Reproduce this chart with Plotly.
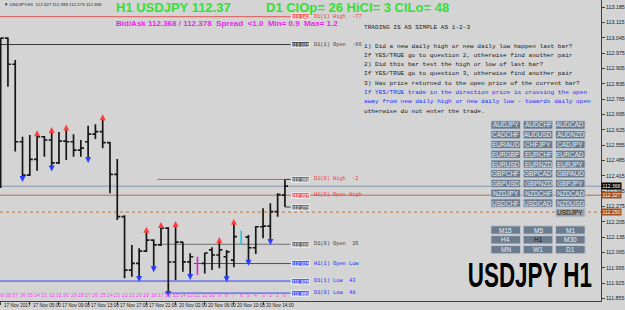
import plotly.graph_objects as go

# ---------------- data ----------------
bar_shift = list(range(39, -1, -1))
opens = [112.944, 113.044, 112.925, 112.571, 112.419, 112.491, 112.594, 112.579, 112.475, 112.574,
         112.571, 112.533, 112.571, 112.606, 112.617, 112.567, 112.422, 112.229, 111.985, 112.016,
         112.072, 112.122, 112.100, 112.177, 112.022, 112.113, 112.023, 112.013, 112.016, 112.077,
         112.054, 112.046, 112.031, 112.159, 112.136, 112.087, 112.183, 112.186, 112.252, 112.327]
highs = [113.045, 113.047, 112.944, 112.594, 112.602, 112.605, 112.597, 112.620, 112.616, 112.632,
         112.605, 112.579, 112.644, 112.651, 112.678, 112.570, 112.492, 112.236, 112.100, 112.085,
         112.165, 112.125, 112.186, 112.181, 112.191, 112.115, 112.062, 112.046, 112.064, 112.089,
         112.118, 112.077, 112.201, 112.165, 112.145, 112.186, 112.267, 112.290, 112.336, 112.399]
lows = [112.360, 112.822, 112.526, 112.406, 112.415, 112.439, 112.503, 112.453, 112.469, 112.488,
        112.503, 112.503, 112.492, 112.584, 112.541, 112.336, 112.214, 111.948, 111.955, 111.949,
        112.068, 111.993, 112.095, 111.880, 111.940, 111.978, 111.958, 111.963, 111.970, 111.985,
        111.993, 111.948, 111.998, 112.100, 112.023, 112.059, 112.130, 112.118, 112.229, 112.273]
closes = [113.044, 112.925, 112.571, 112.419, 112.491, 112.594, 112.579, 112.475, 112.574, 112.571,
          112.533, 112.542, 112.606, 112.617, 112.567, 112.422, 112.229, 111.985, 112.016, 112.072,
          112.122, 112.100, 112.177, 112.022, 112.113, 112.023, 112.046, 112.013, 112.063, 112.054,
          112.077, 112.068, 112.138, 112.136, 112.087, 112.183, 112.186, 112.252, 112.330, 112.368]
magenta_bars = [12]
cyan_bars = [6]
up_arrow_bars = [34, 32, 30, 25, 19, 17, 15, 9, 7]
down_arrow_bars = [36, 32, 27, 20, 18, 16, 13, 8, 5, 2]

time_labels = ["17 Nov 2017", "17 Nov 05:00", "17 Nov 09:00", "17 Nov 13:00", "17 Nov 17:00",
               "17 Nov 21:00", "20 Nov 02:00", "20 Nov 06:00", "20 Nov 10:00", "20 Nov 14:00"]
time_label_bars = [39, 35, 31, 27, 23, 19, 15, 11, 7, 3]

price_ticks = [113.185, 113.115, 113.045, 112.975, 112.905, 112.835, 112.765, 112.695, 112.625,
               112.555, 112.485, 112.415, 112.345, 112.275, 112.205, 112.135, 112.065, 111.995,
               111.925, 111.855]

level_names = ["D1(1) High  -77", "D1(1) Open  -66", "D1(0) High  -2", "H1(0) Open High",
               "", "D1(0) Open  26", "H1(1) Open Low", "D1(1) Low  43", "D1(0) Low  48"]
level_prices = [113.142, 113.015, 112.399, 112.327, 112.273, 112.103, 112.015, 111.935, 111.880]
level_start_bar = [39, 39, 17, 39, None, 17, 12, 39, 16]

bid_price = 112.368
ask_price = 112.378
dotted_price = 112.250
header_symbol = "USDJPY"
header_tf = "H1"
d1_clop, d1_hicl, d1_cllo = 26, 3, 48
spread_txt = "Bid/Ask 112.368 / 112.378  Spread  <1.0  Min= 0.9  Max= 1.2"
ohlc_header = "\u25bc USDJPY,H1  112.327 112.399 112.273 112.368"

info_lines = ["1) Did a new daily high or new daily low happen last bar?",
              "If YES/TRUE go to question 2, otherwise find another pair",
              "2) Did this bar test the high or low of last bar?",
              "If YES/TRUE go to question 3, otherwise find another pair",
              "3) Has price returned to the open price of the current bar?",
              "If YES/TRUE trade in the direction price is crossing the open",
              "away from new daily high or new daily low - towards daily open",
              "otherwise do not enter the trade."]
info_blue = [False, False, False, False, False, True, True, False]

pair_buttons = [["AUDJPY", "AUDCHF", "AUDCAD"], ["CADCHF", "AUDUSD", "AUDNZD"],
                ["EURAUD", "CHFJPY", "CADJPY"], ["EURGBP", "EURCHF", "EURCAD"],
                ["EURUSD", "EURNZD", "EURJPY"], ["GBPCHF", "GBPCAD", "GBPAUD"],
                ["GBPUSD", "GBPNZD", "GBPJPY"], ["NZDJPY", "NZDCHF", "NZDCAD"],
                ["USDCHF", "USDCAD", "NZDUSD"], ["", "", "USDJPY"]]
tf_buttons = [["M15", "M5", "M1"], ["H4", "H1", "M30"], ["MN", "W1", "D1"]]

# ---------------- geometry helpers ----------------
W, H = 625, 310
PR, PB = 606, 301           # plot right / bottom in px
X0, DX = 0.65, 7.35         # px of bar 39, px per bar
PPU = 219.0                 # px per price unit
YTOP = 113.185 + 7.3 / PPU


def k_of(n):
    return 39 - n


def kx(px):
    return (px - X0) / DX


def xp(px):
    return px / PR


def yp(py):
    return 1 - py / PB


BG = "#d4d4d4"
fig = go.Figure()
xs = [k_of(n) for n in bar_shift]

special = set(magenta_bars + cyan_bars)
idx = [i for i, n in enumerate(bar_shift) if n not in special]
fig.add_trace(go.Ohlc(x=[xs[i] for i in idx], open=[opens[i] for i in idx], high=[highs[i] for i in idx],
                      low=[lows[i] for i in idx], close=[closes[i] for i in idx], tickwidth=0.42,
                      increasing=dict(line=dict(color="#161616", width=1.7)),
                      decreasing=dict(line=dict(color="#161616", width=1.7)),
                      showlegend=False, hoverinfo="skip"))
for group, col in ((magenta_bars, "#e020e0"), (cyan_bars, "#10d0e0")):
    ii = [bar_shift.index(n) for n in group]
    fig.add_trace(go.Ohlc(x=[xs[i] for i in ii], open=[opens[i] for i in ii], high=[highs[i] for i in ii],
                          low=[lows[i] for i in ii], close=[closes[i] for i in ii], tickwidth=0.0,
                          increasing=dict(line=dict(color=col, width=1.6)),
                          decreasing=dict(line=dict(color=col, width=1.6)),
                          showlegend=False, hoverinfo="skip"))

off = 4 / PPU
fig.add_trace(go.Scatter(x=[k_of(n) for n in up_arrow_bars],
                         y=[highs[bar_shift.index(n)] + off for n in up_arrow_bars],
                         mode="markers", marker=dict(symbol="arrow-up", size=6, color="#ff3b3b"),
                         showlegend=False, hoverinfo="skip"))
fig.add_trace(go.Scatter(x=[k_of(n) for n in down_arrow_bars],
                         y=[lows[bar_shift.index(n)] - off for n in down_arrow_bars],
                         mode="markers", marker=dict(symbol="arrow-down", size=6, color="#2a3cff"),
                         showlegend=False, hoverinfo="skip"))

shapes = []
ann = []

lvl_line = ["#e05050", "#3a3a3a", "#e05050", "#b86a55", None, "#707070", "#3040ff", "#3040ff", "#3040ff"]
lvl_box_bg = ["#f06868", "#505050", "#707070", "#f06868", "#707070", "#707070", "#5060ff", "#5060ff", "#5060ff"]
lvl_txt = ["#ff3030", "#404040", "#ff3030", "#ff3030", "#404040", "#404040", "#2030ff", "#2030ff", "#2030ff"]
full_width = [False, False, False, True, False, False, False, False, False]
BOX_L = 293
for name, p, sb, lc, bb, tc, fw in zip(level_names, level_prices, level_start_bar, lvl_line,
                                       lvl_box_bg, lvl_txt, full_width):
    if lc is not None:
        x0 = kx(0) if sb == 39 else k_of(sb) - 0.5
        x1 = kx(PR) if fw else kx(BOX_L)
        shapes.append(dict(type="line", xref="x", yref="y", x0=x0, x1=x1, y0=p, y1=p,
                           line=dict(color=lc, width=1), layer="below"))
    ann.append(dict(xref="paper", yref="y", x=xp(BOX_L), y=p, xanchor="left", yanchor="middle",
                    text=f"{p:.3f}", showarrow=False, bgcolor=bb, bordercolor="#e8e8e8", borderwidth=1,
                    borderpad=0, width=17, height=5, font=dict(size=5, color="#ffffff",
                                                              family="Liberation Sans")))
    if name:
        ann.append(dict(xref="paper", yref="y", x=xp(315), y=p, xanchor="left", yanchor="middle",
                        text=name, showarrow=False,
                        font=dict(size=5.3, color=tc, family="Liberation Mono")))

for p in (highs[-1], lows[-1]):
    shapes.append(dict(type="line", xref="x", yref="y", x0=k_of(0), x1=kx(BOX_L), y0=p, y1=p,
                       line=dict(color="#404040", width=1)))

shapes.append(dict(type="line", xref="x", yref="y", x0=kx(0), x1=kx(PR), y0=bid_price, y1=bid_price,
                   line=dict(color="#8596a8", width=1), layer="below"))
shapes.append(dict(type="line", xref="x", yref="y", x0=kx(0), x1=kx(PR), y0=dotted_price, y1=dotted_price,
                   line=dict(color="#c0703a", width=1, dash="dot"), layer="below"))

for p, bg in ((bid_price, "#000000"), (level_prices[3], "#a0501c"), (dotted_price, "#a0501c")):
    ann.append(dict(xref="paper", yref="y", x=1.0, y=p, xanchor="left", yanchor="middle",
                    text=f"{p:.3f}", showarrow=False, bgcolor=bg, borderpad=0, width=19, height=6,
                    font=dict(size=5, color="#ffffff", family="Liberation Sans")))

# header texts
ann.append(dict(xref="paper", yref="paper", x=xp(2), y=yp(5), xanchor="left", yanchor="middle",
                text=ohlc_header, showarrow=False, font=dict(size=4.4, color="#202020")))
ann.append(dict(xref="paper", yref="paper", x=xp(115), y=yp(8), xanchor="left", yanchor="middle",
                text=f"{header_tf} {header_symbol} {bid_price:.2f}", showarrow=False,
                font=dict(size=13, color="#33e033", family="Liberation Sans", weight="bold")))
ann.append(dict(xref="paper", yref="paper", x=xp(266), y=yp(8), xanchor="left", yanchor="middle",
                text=f"D1 ClOp= {d1_clop} HiCl= {d1_hicl} ClLo= {d1_cllo}", showarrow=False,
                font=dict(size=13, color="#33e033", family="Liberation Sans", weight="bold")))
ann.append(dict(xref="paper", yref="paper", x=xp(115), y=yp(24), xanchor="left", yanchor="middle",
                text=spread_txt, showarrow=False,
                font=dict(size=8, color="#e828e8", family="Liberation Sans", weight="bold")))

ann.append(dict(xref="paper", yref="paper", x=xp(365), y=yp(28), xanchor="left", yanchor="middle",
                text="TRADING IS AS SIMPLE AS 1-2-3", showarrow=False,
                font=dict(size=6.1, color="#202020", family="Liberation Mono")))
for i, (t, b) in enumerate(zip(info_lines, info_blue)):
    ann.append(dict(xref="paper", yref="paper", x=xp(365), y=yp(46 + 9.3 * i), xanchor="left",
                    yanchor="middle", text=t, showarrow=False,
                    font=dict(size=6.1, color="#2030ff" if b else "#202020", family="Liberation Mono")))

cols = [(495, 525), (527.5, 557.5), (560, 590)]


def button(label, cx0, cx1, cy, selected=False, dark_text=False):
    if not label:
        return
    shapes.append(dict(type="rect", xref="paper", yref="paper", x0=xp(cx0), x1=xp(cx1),
                       y0=yp(cy + 4.2), y1=yp(cy - 4.2),
                       fillcolor="#9ea3a8" if selected else "#6c7c8e",
                       line=dict(color="#c4ccd4", width=1)))
    ann.append(dict(xref="paper", yref="paper", x=xp((cx0 + cx1) / 2), y=yp(cy), xanchor="center",
                    yanchor="middle", text=label, showarrow=False,
                    font=dict(size=6.5, color="#111111" if (selected or dark_text) else "#e8eef4",
                              family="Liberation Sans")))


for r, row in enumerate(pair_buttons):
    for c, lab in enumerate(row):
        button(lab, cols[c][0], cols[c][1], 125 + 9.75 * r, selected=(lab == header_symbol))
for r, row in enumerate(tf_buttons):
    for c, lab in enumerate(row):
        button(lab, cols[c][0], cols[c][1], 230 + 9.8 * r, dark_text=(lab == header_tf))

BIG = f"{header_symbol} {header_tf}"
ann.append(dict(xref="paper", yref="paper", x=xp(599), y=yp(274), xanchor="right", yanchor="middle",
                text=BIG, showarrow=False,
                font=dict(size=35, color="#000000", family="Liberation Sans", weight="bold")))

for n in bar_shift:
    ann.append(dict(xref="x", yref="paper", x=k_of(n), y=yp(295), xanchor="center", yanchor="middle",
                    text=str(n), showarrow=False, font=dict(size=5.2, color="#ff40ff")))

for t, n in zip(time_labels, time_label_bars):
    ann.append(dict(xref="paper", yref="paper", x=xp(X0 + DX * k_of(n) + 1.0), y=yp(305.5), xanchor="left",
                    yanchor="middle", text=t, showarrow=False, font=dict(size=4.7, color="#202020")))

fig.update_layout(
    width=W, height=H, margin=dict(l=0, r=W - PR, t=0, b=H - PB),
    paper_bgcolor=BG, plot_bgcolor=BG, showlegend=False,
    font=dict(family="Liberation Sans", color="#202020"),
    shapes=shapes, annotations=ann,
    xaxis=dict(range=[kx(0), kx(PR)], showgrid=False, zeroline=False, showline=True, linecolor="#404040",
               linewidth=1, ticks="outside", ticklen=3, tickcolor="#404040",
               tickvals=[k_of(n) for n in time_label_bars], showticklabels=False,
               rangeslider=dict(visible=False), fixedrange=True),
    yaxis=dict(range=[YTOP - PB / PPU, YTOP], side="right", showgrid=False, zeroline=False,
               showline=True, linecolor="#404040", linewidth=1, ticks="outside", ticklen=3,
               tickcolor="#404040", tickvals=price_ticks, ticktext=[f"{v:.3f}" for v in price_ticks],
               tickfont=dict(size=5.3, color="#202020"), fixedrange=True),
)

# condense the big symbol label horizontally (Impact-like look) around its right edge
post = """
(function(){
  function fix(){
    document.querySelectorAll('text.annotation-text').forEach(function(t){
      if (t.textContent === '%s' && !t.getAttribute('data-cond')) {
        var b = t.getBBox(); var r = b.x + b.width;
        t.setAttribute('transform', 'translate(' + r + ',0) scale(0.64,1) translate(' + (-r) + ',0)');
        t.setAttribute('data-cond', '1');
      }
    });
  }
  fix(); setTimeout(fix, 50); setTimeout(fix, 300);
})();
""" % BIG
fig.write_html("out.html", post_script=post)
